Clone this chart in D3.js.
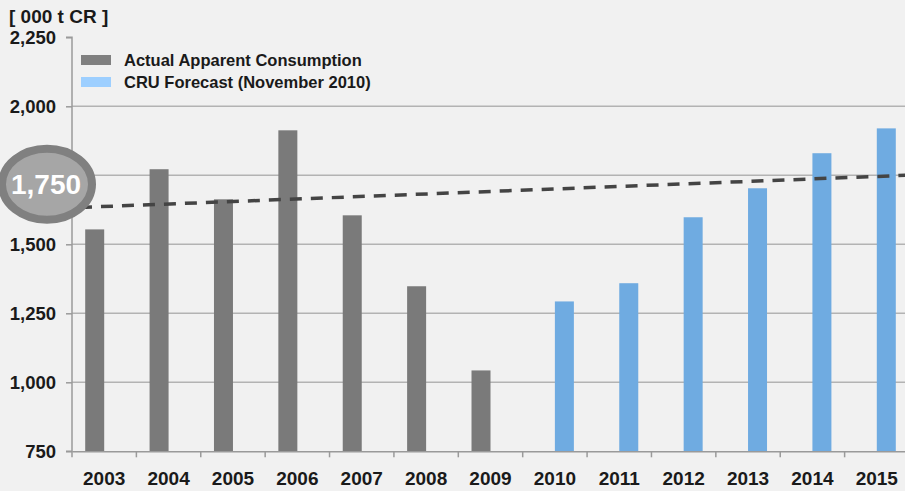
<!DOCTYPE html>
<html>
<head>
<meta charset="utf-8">
<script src="https://cdn.jsdelivr.net/npm/d3@7"></script>
<style>
  body { margin: 0; background: #f1f1f1; }
  text { font-family: "Liberation Sans", Arial, sans-serif; font-weight: bold; fill: #1a1a1a; }
</style>
</head>
<body>
<script>
// data
var years = ['2003','2004','2005','2006','2007','2008','2009','2010','2011','2012','2013','2014','2015'];
var actual = [1554, 1772, 1663, 1913, 1605, 1348, 1043, null, null, null, null, null, null];
var forecast = [null, null, null, null, null, null, null, 1293, 1359, 1598, 1703, 1830, 1920];
var seriesNames = ['Actual Apparent Consumption', 'CRU Forecast (November 2010)'];
var yTicks = [750, 1000, 1250, 1500, 1750, 2000, 2250];
var trendEnds = [1637, 1746]; // trend value at 2003 and at 2015
var calloutLabel = '1,750';

var w = 905, h = 491;
var colors = ['#7a7a7a', '#6fabe1'];
var legendColors = ['#808080', '#9dcfff'];

var svg = d3.select('body').append('svg')
  .attr('width', w)
  .attr('height', h);

svg.append('rect').attr('width', w).attr('height', h).attr('fill', '#f1f1f1');

var x = d3.scaleBand().domain(years).range([72, 909]).paddingInner(0).paddingOuter(0);
var x1 = d3.scaleBand().domain([0, 1]).range([0, x.bandwidth()]).paddingOuter(0.695).paddingInner(0);
var y = d3.scaleLinear().domain([750, 2250]).range([451.3, 37.3]);

//gridlines
svg.selectAll('.grid').data(yTicks.filter(function(d) { return d > 750 && d < 2250; }))
  .enter().append('line')
  .attr('x1', 72).attr('x2', w)
  .attr('y1', function(d) { return y(d); })
  .attr('y2', function(d) { return y(d); })
  .attr('stroke', '#b3b3b3')
  .attr('stroke-width', 1.5);

//bars
var rows = years.map(function(d, i) { return {year: d, vals: [actual[i], forecast[i]]}; });
var groups = svg.selectAll('.grp').data(rows).enter().append('g')
  .attr('transform', function(d) { return 'translate(' + x(d.year) + ',0)'; });
groups.selectAll('rect').data(function(d) {
    return d.vals.map(function(v, k) { return {k: k, v: v}; }).filter(function(e) { return e.v != null; });
  })
  .enter().append('rect')
  .attr('x', function(d) { return x1(d.k); })
  .attr('width', x1.bandwidth())
  .attr('y', function(d) { return y(d.v); })
  .attr('height', function(d) { return y(750) - y(d.v); })
  .attr('fill', function(d) { return colors[d.k]; });

//axes (the 1,750 label sits under the callout, so it is left blank)
var yAxis = svg.append('g').attr('transform', 'translate(72,0)')
  .call(d3.axisLeft(y).tickValues(yTicks).tickSize(6).tickPadding(10)
    .tickFormat(function(d) { return d === 1750 ? '' : d3.format(',')(d); }));
yAxis.select('.domain').attr('stroke', '#9a9a9a').attr('stroke-width', 1.5).attr('d', 'M-6,' + y(2250) + 'H0V' + y(750) + 'H-6');
yAxis.selectAll('.tick line').attr('stroke', '#9a9a9a').attr('stroke-width', 1.5);
yAxis.selectAll('.tick text').style('font-size', '18.5px').attr('fill', '#1a1a1a').attr('dy', '0.36em');

var xAxis = svg.append('g').attr('transform', 'translate(0,' + y(750) + ')')
  .call(d3.axisBottom(x).tickSize(0).tickPadding(20));
xAxis.select('.domain').attr('stroke', '#9a9a9a').attr('stroke-width', 1.5);
xAxis.selectAll('.tick text').style('font-size', '19px').attr('fill', '#1a1a1a');
//boundary ticks
svg.selectAll('.xb').data(years).enter().append('line')
  .attr('x1', function(d) { return x(d); }).attr('x2', function(d) { return x(d); })
  .attr('y1', y(750)).attr('y2', y(750) + 6)
  .attr('stroke', '#9a9a9a').attr('stroke-width', 1.5);

//trend line
var c0 = x(years[0]) + x.bandwidth() / 2,
    c1 = x(years[years.length - 1]) + x.bandwidth() / 2;
var slope = (trendEnds[1] - trendEnds[0]) / (c1 - c0);
var tx0 = 80, tx1 = 909;
svg.append('line')
  .attr('x1', tx0).attr('y1', y(trendEnds[0] + slope * (tx0 - c0)))
  .attr('x2', tx1).attr('y2', y(trendEnds[0] + slope * (tx1 - c0)))
  .attr('stroke', '#444')
  .attr('stroke-width', 3.5)
  .attr('stroke-dasharray', '12,9');

//callout
var cy = y(1750) + 9;
svg.append('ellipse')
  .attr('cx', 47).attr('cy', cy).attr('rx', 45).attr('ry', 35.5)
  .attr('fill', '#a6a6a6').attr('stroke', '#808080').attr('stroke-width', 8);
svg.append('text')
  .attr('x', 46).attr('y', cy + 10)
  .attr('text-anchor', 'middle')
  .style('font-size', '28px')
  .style('fill', '#fff')
  .text(calloutLabel);

//unit label
svg.append('text').attr('x', 9).attr('y', 23).style('font-size', '19px').text('[ 000 t CR ]');

//legend
var lg = svg.selectAll('.lg').data(seriesNames).enter().append('g')
  .attr('transform', function(d, i) { return 'translate(81,' + (55 + i * 22) + ')'; });
lg.append('rect').attr('width', 30).attr('height', 10)
  .attr('fill', function(d, i) { return legendColors[i]; });
lg.append('text').attr('x', 43).attr('y', 11).style('font-size', '16.5px').text(function(d) { return d; });
</script>
</body>
</html>
